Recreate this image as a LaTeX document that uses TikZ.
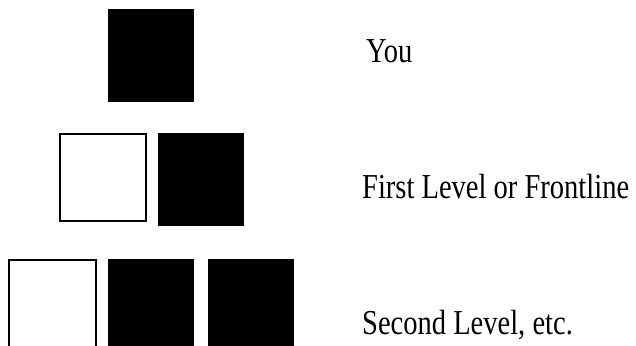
\documentclass[tikz,border=0pt]{standalone}
\usepackage{fontspec}
\setmainfont[FakeStretch=0.815]{Liberation Serif}
\begin{document}
\begin{tikzpicture}[x=1pt,y=1pt,
  blackbox/.style={fill=black,draw=none,inner sep=0pt,outer sep=0pt,anchor=north west},
  whitebox/.style={draw=black,fill=white,line width=2pt,inner sep=0pt,outer sep=0pt,anchor=north west},
  lbl/.style={anchor=base west,inner sep=0pt,font=\fontsize{35}{40}\selectfont}]
\useasboundingbox (0,0) rectangle (636,-345);
\clip (0,0) rectangle (636,-345);
% top row
\node[blackbox,minimum width=86pt,minimum height=93pt] (you) at (108,-9) {};
% second row
\node[whitebox,minimum width=86pt,minimum height=87pt] (f1) at (60,-134) {};
\node[blackbox,minimum width=86pt,minimum height=93pt] (f2) at (158,-133) {};
% third row
\node[whitebox,minimum width=87pt,minimum height=100pt] (s1) at (9,-260) {};
\node[blackbox,minimum width=86pt,minimum height=100pt] (s2) at (108,-259) {};
\node[blackbox,minimum width=86pt,minimum height=100pt] (s3) at (208,-259) {};
% labels
\node[lbl] (tyou) at (366,-62) {You};
\node[lbl] (tfirst) at (362,-198) {First Level or Frontline};
\node[lbl] (tsecond) at (362,-334) {Second Level, etc.};
\end{tikzpicture}
\end{document}
